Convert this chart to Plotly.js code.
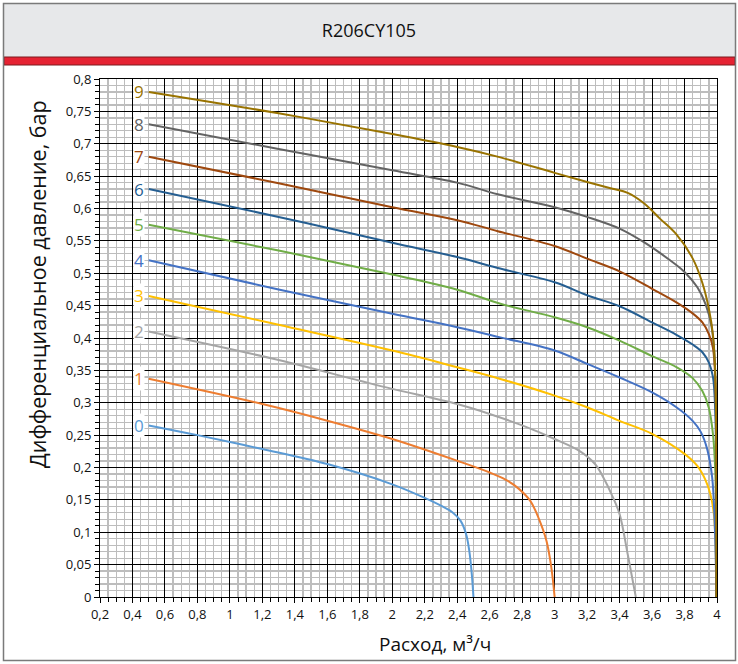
<!DOCTYPE html>
<html><head><meta charset="utf-8">
<script src="https://cdn.plot.ly/plotly-3.0.1.min.js"></script>
<style>html,body{margin:0;padding:0;background:#fff;overflow:hidden}#chart{width:738px;height:664px}</style>
</head><body><div id="chart"></div>
<script>
const chartTitle = 'R206CY105';
const xTitle = 'Расход, м³/ч';
const yTitle = 'Дифференциальное давление, бар';
const curveLabels = ['0','1','2','3','4','5','6','7','8','9'];
const curveColors = ['#5b9bd5','#ed7d31','#a5a5a5','#ffc000','#4472c4','#70ad47','#255e91','#9e480e','#636363','#997300'];

const x0 = [0.5,0.8,1.2,1.6,2.0,2.2,2.3,2.37,2.42,2.455,2.475,2.49,2.5];
const y0 = [0.265,0.25,0.2285,0.2053,0.174,0.153,0.141,0.131,0.118,0.097,0.07,0.035,0];
const x1 = [0.5,1.2,1.6,2.0,2.4,2.6,2.7,2.78,2.85,2.9,2.95,2.98,3.0];
const y1 = [0.337,0.298,0.2723,0.244,0.2104,0.1923,0.181,0.167,0.1485,0.1227,0.0866,0.045,0];
const x2 = [0.5,1.3,1.8,2.0,2.4,2.6,2.8,3.0,3.15,3.25,3.3,3.35,3.4,3.45,3.5];
const y2 = [0.41,0.366,0.334,0.3214,0.298,0.2827,0.265,0.244,0.226,0.205,0.1846,0.159,0.128,0.066,0];
const x3 = [0.5,1.3,2.0,2.4,2.666,3.0,3.2,3.4,3.6,3.8,3.88,3.93,3.96,3.98,3.99,3.997];
const y3 = [0.465,0.4204,0.3806,0.3548,0.3368,0.311,0.293,0.272,0.252,0.221,0.202,0.18,0.158,0.13,0.09,0];
const x4 = [0.5,1.3,2.0,2.4,2.666,3.0,3.2,3.4,3.6,3.75,3.85,3.9,3.94,3.97,3.985,3.997];
const y4 = [0.52,0.475,0.4374,0.4167,0.401,0.3806,0.36,0.339,0.316,0.293,0.272,0.255,0.228,0.185,0.12,0];
const x5 = [0.5,1.3,2.0,2.4,2.666,3.0,3.2,3.4,3.6,3.75,3.85,3.91,3.95,3.975,3.99,3.997];
const y5 = [0.575,0.535,0.498,0.4746,0.453,0.432,0.4167,0.396,0.372,0.355,0.338,0.318,0.292,0.252,0.19,0];
const x6 = [0.5,1.3,2.0,2.4,2.65,3.0,3.2,3.4,3.6,3.75,3.85,3.91,3.95,3.975,3.99,3.997];
const y6 = [0.63,0.587,0.547,0.525,0.508,0.486,0.466,0.449,0.424,0.405,0.39,0.378,0.362,0.34,0.28,0];
const x7 = [0.5,1.3,2.0,2.4,2.65,3.0,3.2,3.4,3.6,3.75,3.85,3.91,3.95,3.975,3.99,3.997];
const y7 = [0.68,0.639,0.602,0.582,0.565,0.542,0.5225,0.503,0.476,0.455,0.438,0.424,0.406,0.385,0.33,0];
const x8 = [0.5,1.3,2.0,2.4,2.65,3.0,3.2,3.4,3.55,3.7,3.8,3.88,3.93,3.965,3.985,3.997];
const y8 = [0.73,0.692,0.659,0.64,0.622,0.602,0.587,0.569,0.548,0.522,0.502,0.478,0.452,0.42,0.37,0];
const x9 = [0.5,1.3,2.0,2.4,2.666,3.0,3.2,3.35,3.45,3.55,3.65,3.75,3.85,3.91,3.95,3.975,3.99,3.997];
const y9 = [0.78,0.747,0.715,0.695,0.679,0.655,0.641,0.631,0.624,0.608,0.584,0.56,0.523,0.485,0.445,0.405,0.34,0];

const xs = [x0,x1,x2,x3,x4,x5,x6,x7,x8,x9];
const ys = [y0,y1,y2,y3,y4,y5,y6,y7,y8,y9];
const FONT = 'Open Sans, Noto Sans, sans-serif';

const traces = xs.map((x,i)=>({
  x:x, y:ys[i], type:'scatter', mode:'lines', name:curveLabels[i],
  line:{color:curveColors[i], width:2, shape:'spline', smoothing:1.0},
  hoverinfo:'skip', showlegend:false
}));

const L=100, T=79, W=617, H=518;
const px = p => (p-L)/W;
const py = p => (T+H-p)/H;

const shapes = [
  {type:'rect', xref:'paper', yref:'paper', x0:px(4), x1:px(735), y0:py(4), y1:py(57), fillcolor:'#e7e8ea', line:{width:0}, layer:'below'},
  {type:'rect', xref:'paper', yref:'paper', x0:px(4), x1:px(735), y0:py(57), y1:py(65), fillcolor:'#e52232', line:{color:'#7d1a1f', width:1}, layer:'below'},
  {type:'rect', xref:'paper', yref:'paper', x0:px(3.5), x1:px(735.5), y0:py(3.5), y1:py(660.5), fillcolor:'rgba(0,0,0,0)', line:{color:'#7a7a7a', width:1.5}, layer:'above'}
];

const annotations = xs.map((x,i)=>({
  x:0.44, y:ys[i][0], xref:'x', yref:'y', text:curveLabels[i], showarrow:false,
  font:{family:FONT, size:17, color:curveColors[i]}, bgcolor:'#ffffff', borderpad:0,
  xanchor:'center', yanchor:'middle'
}));
annotations.push({
  xref:'paper', yref:'paper', x:px(37), y:py(284), text:yTitle, textangle:-90, showarrow:false,
  font:{family:FONT, size:21.5, color:'#111'}, xanchor:'center', yanchor:'middle'
});
annotations.push({
  xref:'paper', yref:'paper', x:px(435), y:py(644), text:xTitle, showarrow:false,
  font:{family:FONT, size:19, color:'#111'}, xanchor:'center', yanchor:'middle'
});

const layout = {
  width:738, height:664,
  margin:{l:L, r:738-L-W, t:T, b:664-T-H, pad:0},
  paper_bgcolor:'#ffffff', plot_bgcolor:'#ffffff',
  separators:', ',
  title:{text:chartTitle, x:0.5, xref:'container', xanchor:'center', y:1-31/664, yref:'container', yanchor:'middle',
         font:{family:FONT, size:18, color:'#111'}},
  xaxis:{range:[0.2,4], tickmode:'linear', tick0:0, dtick:0.2, showgrid:true, gridcolor:'#000000', gridwidth:1,
         zeroline:false, showline:true, linecolor:'#000', linewidth:1, mirror:true,
         ticks:'outside', ticklen:5, tickcolor:'#000',
         tickfont:{family:FONT, size:13, color:'#111'},
         minor:{dtick:0.05, tick0:0, showgrid:true, gridcolor:'#bdbdbd', gridwidth:1.3, ticks:'outside', ticklen:4, tickcolor:'#000'}},
  yaxis:{range:[0,0.8], tickmode:'linear', tick0:0, dtick:0.05, showgrid:true, gridcolor:'#000000', gridwidth:1,
         zeroline:false, showline:true, linecolor:'#000', linewidth:1, mirror:true,
         ticks:'outside', ticklen:5, tickcolor:'#000',
         tickfont:{family:FONT, size:13, color:'#111'},
         minor:{dtick:0.01, tick0:0, showgrid:true, gridcolor:'#bdbdbd', gridwidth:1.3, ticks:'outside', ticklen:4, tickcolor:'#000'}},
  shapes:shapes, annotations:annotations
};

Plotly.newPlot('chart', traces, layout, {displayModeBar:false, staticPlot:true});
</script></body></html>
